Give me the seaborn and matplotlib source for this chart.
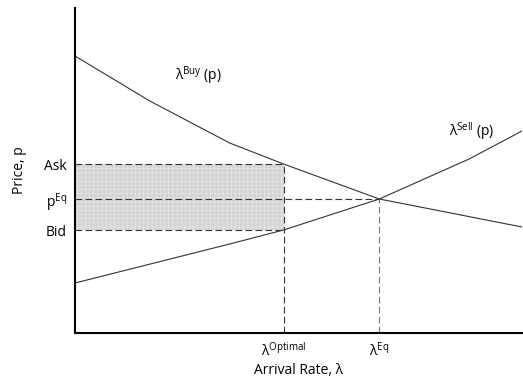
import matplotlib
matplotlib.use("Agg")
import matplotlib.pyplot as plt
import seaborn as sns
import pandas as pd

# data (arbitrary units)
buy_x = [0, 75, 155, 209, 305, 448]
buy_y = [277, 232, 190, 169, 134, 106]
sell_x = [0, 155, 209, 305, 395, 448]
sell_y = [50, 89, 103, 134, 174, 202]
ask, p_eq, bid = 169, 134, 103
lam_opt, lam_eq = 209, 305
ytick_vals = [bid, p_eq, ask]
ytick_labels = ["Bid", r"p$^{\mathrm{Eq}}$", "Ask"]
xtick_vals = [lam_opt, lam_eq]
xtick_labels = [r"$\mathrm{λ}^{\mathrm{Optimal}}$", r"$\mathrm{λ}^{\mathrm{Eq}}$"]

sns.set_style("white")
plt.rcParams['font.family'] = ['Open Sans', 'DejaVu Sans']
plt.rcParams['mathtext.fontset'] = 'custom'
plt.rcParams['mathtext.rm'] = 'Open Sans'
plt.rcParams['mathtext.it'] = 'Open Sans:italic'
plt.rcParams['hatch.linewidth'] = 0.4
plt.rcParams['text.color'] = 'black'
plt.rcParams['axes.labelcolor'] = 'black'
plt.rcParams['xtick.color'] = 'black'
plt.rcParams['ytick.color'] = 'black'

fig = plt.figure(figsize=(5.23, 3.85), dpi=100)
ax = fig.add_axes([75/523, 52/385, 447/523, 325/385])

df_buy = pd.DataFrame({"x": buy_x, "y": buy_y})
df_sell = pd.DataFrame({"x": sell_x, "y": sell_y})
sns.lineplot(data=df_buy, x="x", y="y", ax=ax, color="#333333", lw=0.8, sort=False)
sns.lineplot(data=df_sell, x="x", y="y", ax=ax, color="#333333", lw=0.8, sort=False)

ax.fill_between([0, lam_opt], bid, ask, facecolor="#d4d4d4", edgecolor="#ebebeb",
                hatch="++++", linewidth=0, zorder=0)

dash = dict(color="#333333", lw=0.8, ls=(0, (6, 3)))
ax.plot([0, lam_opt], [ask, ask], **dash)
ax.plot([0, lam_opt], [bid, bid], **dash)
ax.plot([0, lam_eq], [p_eq, p_eq], **dash)
ax.plot([lam_opt, lam_opt], [0, ask], **dash)
ax.plot([lam_eq, lam_eq], [0, p_eq], color="#777777", lw=0.8, ls=(0, (6, 3)))

ax.text(100, 257, r"$\mathrm{λ}^{\mathrm{Buy}}$ (p)", fontsize=10, va="center")
ax.text(375, 202, r"$\mathrm{λ}^{\mathrm{Sell}}$ (p)", fontsize=10, va="center")

ax.set_xlim(0, 448)
ax.set_ylim(0, 325)
ax.set_yticks(ytick_vals)
ax.set_yticklabels(ytick_labels, fontsize=10)
ax.set_xticks(xtick_vals)
ax.set_xticklabels(xtick_labels, fontsize=10)
ax.tick_params(length=0, pad=6)
ax.set_xlabel("Arrival Rate, λ", fontsize=10, labelpad=2)
ax.set_ylabel("Price, p", fontsize=10, labelpad=12)

for s in ["top", "right"]:
    ax.spines[s].set_visible(False)
for s in ["left", "bottom"]:
    ax.spines[s].set_color("black")
    ax.spines[s].set_linewidth(1.5)

fig.savefig("out.png", dpi=100)
